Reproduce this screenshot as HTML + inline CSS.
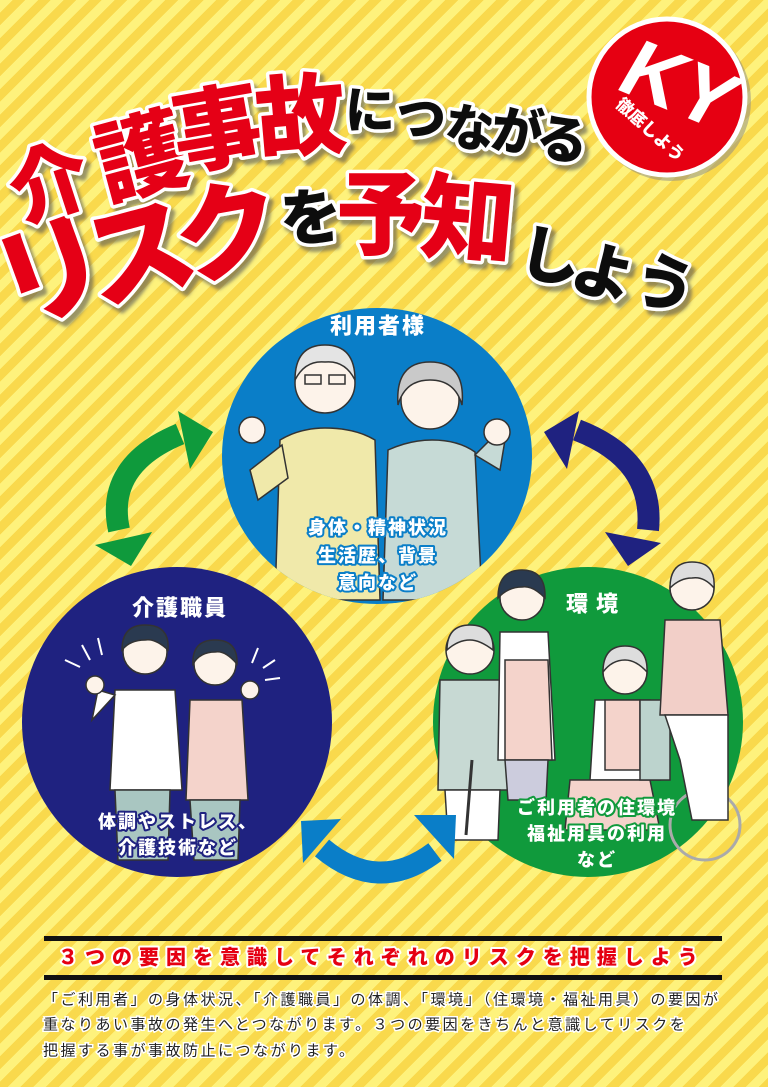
<!DOCTYPE html>
<html><head><meta charset="utf-8"><style>
html,body{margin:0;padding:0}
body{width:768px;height:1087px;overflow:hidden;position:relative;
background:repeating-linear-gradient(135deg,#fef27c 0 9px,#f9d94c 9px 18px);
font-family:"Liberation Sans","Noto Sans CJK JP",sans-serif}
svg{position:absolute;left:0;top:0}
.t{font-family:"Liberation Sans","Noto Sans CJK JP",sans-serif;font-weight:900;paint-order:stroke;stroke-linejoin:round}
</style></head><body>
<svg width="768" height="1087" viewBox="0 0 768 1087">
<defs>
<filter id="sh" x="-20%" y="-20%" width="140%" height="140%"><feDropShadow dx="4" dy="5" stdDeviation="1.5" flood-color="#555" flood-opacity="0.6"/></filter>
<clipPath id="cb"><ellipse cx="377" cy="456" rx="155" ry="148"/></clipPath>
<clipPath id="cn"><circle cx="177" cy="722" r="155"/></clipPath>
</defs>

<!-- Title -->
<g class="t" filter="url(#sh)" stroke="#fff" stroke-width="7" text-anchor="middle" dominant-baseline="central">
<g transform="translate(0,16)">
<text transform="translate(142,143) rotate(-15)" font-size="90" fill="#e50012">護</text>
<text transform="translate(218,115) rotate(-10)" font-size="90" fill="#e50012">事</text>
<text transform="translate(301,103) rotate(-5)" font-size="90" fill="#e50012">故</text>
<text transform="translate(370,95) rotate(0)" font-size="50" fill="#111">に</text>
<text transform="translate(421,103) rotate(3)" font-size="50" fill="#111">つ</text>
<text transform="translate(470,113) rotate(6)" font-size="50" fill="#111">な</text>
<text transform="translate(517,117) rotate(8)" font-size="52" fill="#111">が</text>
<text transform="translate(562,125) rotate(10)" font-size="52" fill="#111">る</text>
<text transform="translate(52,257) rotate(-20)" font-size="112" fill="#e50012">リ</text>
<text transform="translate(140,238) rotate(-15)" font-size="110" fill="#e50012">ス</text>
<text transform="translate(228,218) rotate(-10)" font-size="106" fill="#e50012">ク</text>
<text transform="translate(311,203) rotate(-5)" font-size="62" fill="#111">を</text>
<text transform="translate(382,200) rotate(0)" font-size="92" fill="#e50012">予</text>
<text transform="translate(468,205) rotate(5)" font-size="94" fill="#e50012">知</text>
<text transform="translate(550,242) rotate(10)" font-size="62" fill="#111">し</text>
<text transform="translate(603,258) rotate(15)" font-size="62" fill="#111">よ</text>
<text transform="translate(664,270) rotate(20)" font-size="62" fill="#111">う</text>
<text transform="translate(50,168) rotate(-18)" font-size="80" fill="#e50012">介</text>
</g>
</g>

<!-- KY badge -->
<circle cx="671" cy="101" r="80" fill="#888" opacity="0.5"/>
<circle cx="667" cy="97" r="78" fill="#e60012" stroke="#fff" stroke-width="5"/>
<text class="t" transform="translate(680,85) rotate(22) skewX(-8)" font-size="82" fill="#fff" text-anchor="middle" dominant-baseline="central">KY</text>
<text class="t" transform="translate(650,130) rotate(42)" font-size="17" fill="#fff" text-anchor="middle" dominant-baseline="central">徹底しよう</text>

<!-- Circles -->
<ellipse cx="377" cy="456" rx="155" ry="148" fill="#0a7ec8"/>
<circle cx="177" cy="722" r="155" fill="#1f2280"/>
<circle cx="588" cy="722" r="155" fill="#109a3c"/>

<!-- Blue circle people -->
<g clip-path="url(#cb)" stroke="#333" stroke-width="1.5">
 <path d="M280,440 Q300,428 325,428 Q355,428 375,440 L380,600 L275,600 Z" fill="#f0e9aa"/>
 <path d="M282,445 L250,470 L258,500 L288,478 Z" fill="#f0e9aa"/>
 <circle cx="252" cy="430" r="13" fill="#fdf3ea"/>
 <circle cx="325" cy="383" r="30" fill="#fdf3ea"/>
 <path d="M295,380 Q295,345 325,345 Q355,345 355,380 Q345,360 325,362 Q305,360 295,380Z" fill="#e4e4e4"/>
 <rect x="305" y="375" width="16" height="9" fill="none"/><rect x="329" y="375" width="16" height="9" fill="none"/>
 <path d="M388,450 Q410,440 432,440 Q458,440 475,452 L482,600 L383,600 Z" fill="#c6dad6"/>
 <path d="M475,455 L500,470 L505,440 L490,440 Z" fill="#c6dad6"/>
 <circle cx="497" cy="432" r="13" fill="#fdf3ea"/>
 <circle cx="430" cy="400" r="29" fill="#fdf3ea"/>
 <path d="M398,405 Q395,362 430,362 Q466,362 462,405 Q455,380 430,380 Q405,380 398,405Z" fill="#c9c9c9"/>
</g>

<!-- Navy circle people -->
<g clip-path="url(#cn)" stroke="#333" stroke-width="1.5">
 <path d="M115,690 L175,690 L182,790 L110,790 Z" fill="#fff"/>
 <path d="M115,790 L170,790 L168,860 L118,860 Z" fill="#a9c6c1"/>
 <path d="M115,695 L92,720 L98,690 Z" fill="#fff"/>
 <circle cx="95" cy="685" r="9" fill="#fdf3ea"/>
 <circle cx="145" cy="652" r="22" fill="#fdf3ea"/>
 <path d="M122,650 Q122,625 145,625 Q170,625 168,650 Q155,638 145,640 Q130,640 122,650Z" fill="#2a3a50"/>
 <path d="M190,700 L242,700 L248,800 L186,800 Z" fill="#f4d3cb"/>
 <path d="M190,800 L240,800 L238,860 L194,860 Z" fill="#a9c6c1"/>
 <circle cx="250" cy="690" r="9" fill="#fdf3ea"/>
 <circle cx="215" cy="664" r="21" fill="#fdf3ea"/>
 <path d="M193,664 Q192,640 215,640 Q238,640 237,664 Q225,650 215,652 Q200,652 193,664Z" fill="#2a3a50"/>
 <g stroke="#fff" stroke-width="2"><line x1="82" y1="645" x2="90" y2="660"/><line x1="98" y1="638" x2="102" y2="655"/><line x1="65" y1="660" x2="80" y2="667"/><line x1="258" y1="648" x2="252" y2="663"/><line x1="275" y1="660" x2="263" y2="668"/><line x1="280" y1="678" x2="265" y2="680"/></g>
</g>

<!-- Green circle people -->
<g stroke="#333" stroke-width="1.5">
 <path d="M440,680 L505,680 L508,790 L438,790 Z" fill="#c7d9d3"/>
 <path d="M445,790 L500,790 L498,840 L448,840 Z" fill="#fff"/>
 <line x1="472" y1="760" x2="466" y2="835" stroke-width="3"/>
 <circle cx="470" cy="650" r="24" fill="#fdf3ea"/>
 <path d="M447,650 Q447,625 470,625 Q494,625 493,650 Q480,640 470,640 Q458,640 447,650Z" fill="#ddd"/>
 <path d="M500,632 L548,632 L555,760 L498,760 Z" fill="#fff"/>
 <path d="M505,660 L548,660 L552,760 L505,760 Z" fill="#f4d3cb"/>
 <path d="M505,760 L548,760 L546,800 L508,800 Z" fill="#ccd"/>
 <circle cx="522" cy="598" r="22" fill="#fdf3ea"/>
 <path d="M498,598 Q498,570 522,570 Q546,570 545,598 Q532,585 522,587 Q508,587 498,598Z" fill="#2a3a50"/>
 <path d="M595,700 L650,700 L660,780 L590,780 Z" fill="#fff"/>
 <path d="M605,700 L640,700 L640,770 L605,770 Z" fill="#f4d3cb"/>
 <path d="M570,780 L650,780 L660,830 L565,830 Z" fill="#f4d3cb"/>
 <circle cx="705" cy="825" r="35" fill="none" stroke="#aaa" stroke-width="3"/>
 <rect x="640" y="700" width="30" height="80" fill="#bcd3cd"/>
 <circle cx="625" cy="672" r="22" fill="#fdf3ea"/>
 <path d="M603,672 Q603,646 625,646 Q648,646 647,672 Q636,660 625,660 Q612,660 603,672Z" fill="#ddd"/>
 <path d="M665,620 L720,620 L728,715 L660,715 Z" fill="#f2cfc8"/>
 <path d="M665,715 L728,715 L728,820 L692,820 L680,760 Z" fill="#fff"/>
 <circle cx="692" cy="588" r="22" fill="#fdf3ea"/>
 <path d="M670,588 Q670,562 692,562 Q716,562 714,588 Q704,576 692,578 Q680,578 670,588Z" fill="#ddd"/>
</g>

<!-- Arrows -->
<g fill="none" stroke-width="22">
 <path d="M119,530 Q105,465 180,434" stroke="#0f9a3c"/>
 <path d="M577,430 Q655,460 648,530" stroke="#1f2280"/>
 <path d="M322,848 Q378,895 435,852" stroke="#0a7ec8"/>
</g>
<polygon points="178,411 213,432 190,469" fill="#0f9a3c"/>
<polygon points="95,545 152,532 131,566" fill="#0f9a3c"/>
<polygon points="544,432 579,411 567,469" fill="#1f2280"/>
<polygon points="605,532 661,543 628,566" fill="#1f2280"/>
<polygon points="301,821 341,819 303,863" fill="#0a7ec8"/>
<polygon points="414,815 456,815 454,859" fill="#0a7ec8"/>

<!-- Labels -->
<g class="t" fill="#fff" text-anchor="middle" dominant-baseline="central" letter-spacing="2">
 <text x="378" y="326" font-size="22">利用者様</text>
 <g stroke="#0a7ec8" stroke-width="4" font-size="18">
  <text x="378" y="528">身体・精神状況</text>
  <text x="378" y="556">生活歴、背景</text>
  <text x="378" y="583">意向など</text>
 </g>
 <text x="180" y="608" font-size="22">介護職員</text>
 <g stroke="#1f2280" stroke-width="4" font-size="18">
  <text x="178" y="822">体調やストレス、</text>
  <text x="178" y="848">介護技術など</text>
 </g>
 <text x="596" y="604" font-size="22" letter-spacing="8">環境</text>
 <g stroke="#109a3c" stroke-width="4" font-size="18">
  <text x="597" y="808">ご利用者の住環境</text>
  <text x="597" y="834">福祉用具の利用</text>
  <text x="597" y="860">など</text>
 </g>
</g>

<!-- Bottom -->
<rect x="44" y="936" width="678" height="5" fill="#111"/>
<rect x="44" y="975" width="678" height="5" fill="#111"/>
<text class="t" x="58" y="958" font-size="20" fill="#e50012" stroke="#fff" stroke-width="4" dominant-baseline="central" letter-spacing="7">３つの要因を意識してそれぞれのリスクを把握しよう</text>
<g font-family="'Liberation Sans','Noto Sans CJK JP',sans-serif" font-size="15" fill="#222" stroke="#fff" stroke-width="3" style="paint-order:stroke" dominant-baseline="central" letter-spacing="2.5">
 <text x="43" y="1000">「ご利用者」の身体状況、「介護職員」の体調、「環境」（住環境・福祉用具）の要因が</text>
 <text x="43" y="1025">重なりあい事故の発生へとつながります。３つの要因をきちんと意識してリスクを</text>
 <text x="43" y="1051">把握する事が事故防止につながります。</text>
</g>
</svg>
</body></html>
